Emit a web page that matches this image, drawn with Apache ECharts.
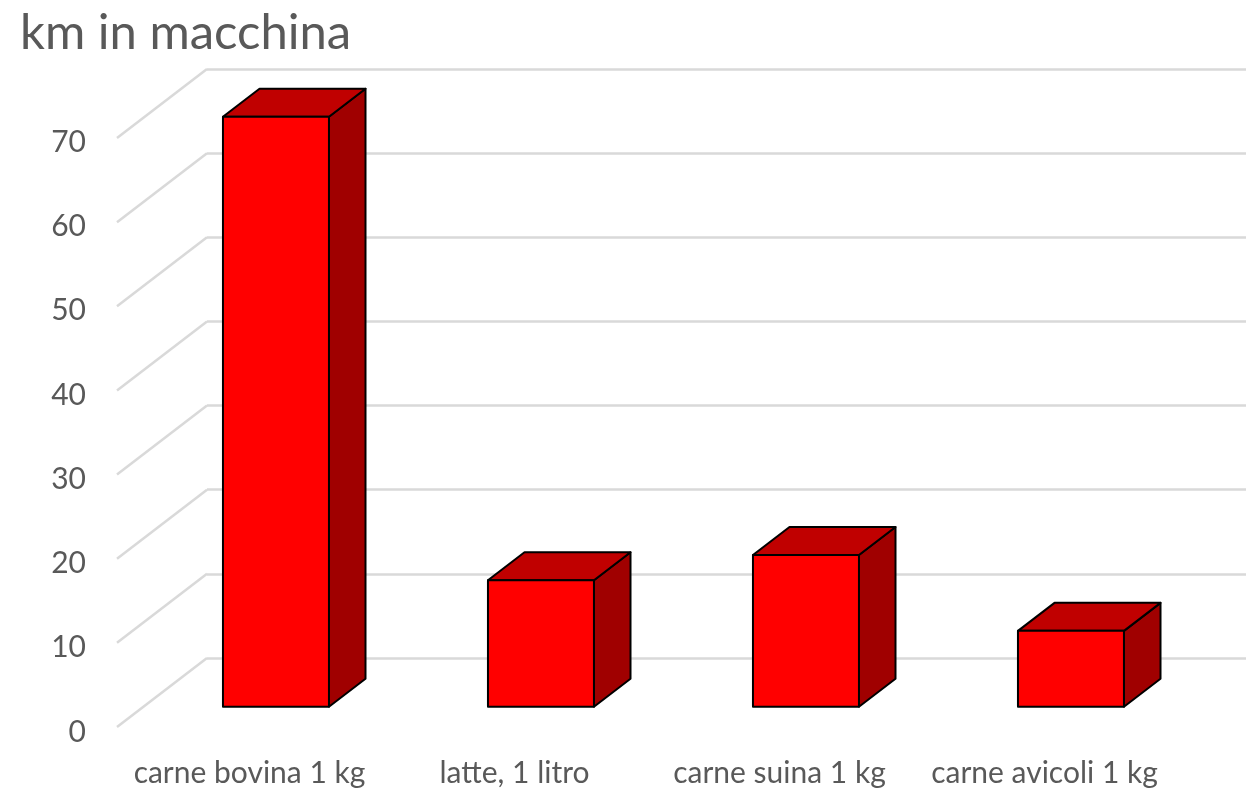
<!DOCTYPE html>
<html>
<head>
<meta charset="utf-8">
<style>html,body{margin:0;padding:0;background:#fff}#chart{width:1246px;height:789px}</style>
<script src="https://cdn.jsdelivr.net/npm/echarts@6/dist/echarts.min.js"></script>
</head>
<body>
<div id="chart"></div>
<script>
const chartTitle = 'km in macchina';
const categories = ['carne bovina 1 kg', 'latte, 1 litro', 'carne suina 1 kg', 'carne avicoli 1 kg'];
const kmValues = [70, 15, 18, 9];
const tickValues = [0, 10, 20, 30, 40, 50, 60, 70];

// Oblique projection: the floor runs from the front plane to the back wall along this vector.
const DEPTH_X = 90, DEPTH_Y = -69;
const BAR_FRONT = 0.294, BAR_BACK = 0.70, BAR_WIDTH_RATIO = 0.40;
const FONT = '"Comic Sans MS", Lato, sans-serif';
const TEXT = '#595959', GRID = '#d9d9d9';

function drawBar(params, api) {
  const base = api.coord([api.value(0), 0]);
  const top = api.coord([api.value(0), api.value(1)]);
  const w = api.size([1, 0])[0] * BAR_WIDTH_RATIO;
  const fx = base[0] + DEPTH_X * BAR_FRONT - w / 2;
  const fy = DEPTH_Y * BAR_FRONT;
  const dx = DEPTH_X * (BAR_BACK - BAR_FRONT), dy = DEPTH_Y * (BAR_BACK - BAR_FRONT);
  const yTop = top[1] + fy, yBase = base[1] + fy;
  const stroke = { stroke: '#000', lineWidth: 2, lineJoin: 'round' };
  const face = (pts, fill) => ({
    type: 'polygon', shape: { points: pts }, style: Object.assign({ fill }, stroke)
  });
  return {
    type: 'group',
    children: [
      face([[fx + w, yTop], [fx + w + dx, yTop + dy], [fx + w + dx, yBase + dy], [fx + w, yBase]], '#a00000'),
      face([[fx, yTop], [fx + dx, yTop + dy], [fx + w + dx, yTop + dy], [fx + w, yTop]], '#c00000'),
      face([[fx, yTop], [fx + w, yTop], [fx + w, yBase], [fx, yBase]], '#ff0000')
    ]
  };
}

// Side-wall gridlines leading from each tick on the back wall to the front plane.
function drawSideLine(params, api) {
  const p = api.coord([0, api.value(0)]);
  return {
    type: 'line',
    shape: { x1: p[0], y1: p[1], x2: p[0] - DEPTH_X, y2: p[1] - DEPTH_Y },
    style: { stroke: GRID, lineWidth: 2.5 }
  };
}

const chart = echarts.init(document.getElementById('chart'), null, { renderer: 'canvas' });
chart.setOption({
  animation: false,
  backgroundColor: '#fff',
  title: {
    text: chartTitle, left: 15, top: 4,
    textStyle: { fontFamily: FONT, fontSize: 49, fontWeight: 'normal', color: TEXT }
  },
  grid: [
    { left: 117, right: 69, top: 137, bottom: 62 },
    { left: 207, right: 0, top: 69, bottom: 131 }
  ],
  xAxis: [
    {
      type: 'category', gridIndex: 0, data: categories,
      axisLine: { show: false }, axisTick: { show: false },
      axisLabel: { interval: 0, margin: 31, fontFamily: FONT, fontSize: 30, color: TEXT }
    },
    { type: 'value', gridIndex: 1, min: 0, max: 1, show: false }
  ],
  yAxis: [
    {
      type: 'value', gridIndex: 0, min: 0, max: 70, interval: 10,
      axisLine: { show: false }, axisTick: { show: false }, splitLine: { show: false },
      axisLabel: { margin: 31, fontFamily: FONT, fontSize: 30, color: TEXT, verticalAlign: 'top', lineHeight: 10 }
    },
    {
      type: 'value', gridIndex: 1, min: 0, max: 70, interval: 10,
      axisLine: { show: false }, axisTick: { show: false }, axisLabel: { show: false },
      splitLine: { show: true, lineStyle: { color: GRID, width: 2.5 } }
    }
  ],
  series: [
    {
      type: 'custom', xAxisIndex: 1, yAxisIndex: 1, z: 1, silent: true, clip: false,
      renderItem: drawSideLine,
      encode: { y: 0 },
      data: tickValues.map(v => [v])
    },
    {
      type: 'custom', xAxisIndex: 0, yAxisIndex: 0, z: 3, clip: false,
      renderItem: drawBar,
      encode: { x: 0, y: 1 },
      data: kmValues.map((v, i) => [i, v])
    }
  ]
});
</script>
</body>
</html>
